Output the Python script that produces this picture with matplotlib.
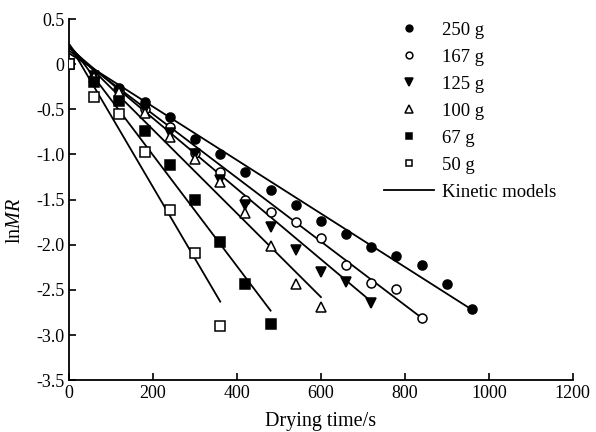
import matplotlib.pyplot as plt
import numpy as np

plt.rcParams['font.family'] = ['Liberation Serif', 'DejaVu Serif']
plt.rcParams['mathtext.fontset'] = 'custom'
plt.rcParams['mathtext.rm'] = 'Liberation Serif'
plt.rcParams['mathtext.it'] = 'Liberation Serif:italic'

labels = ['250 g', '167 g', '125 g', '100 g', '67 g', '50 g']
markers = ['o', 'o', 'v', '^', 's', 's']
filled = [True, False, True, False, True, False]

t250 = [0, 60, 120, 180, 240, 300, 360, 420, 480, 540, 600, 660, 720, 780, 840, 900, 960]
y250 = [0, -0.15, -0.26, -0.42, -0.58, -0.83, -1.0, -1.19, -1.39, -1.56, -1.74, -1.88, -2.03, -2.12, -2.22, -2.44, -2.71]
t167 = [0, 60, 120, 180, 240, 300, 360, 420, 480, 540, 600, 660, 720, 780, 840]
y167 = [0, -0.14, -0.3, -0.5, -0.7, -0.98, -1.19, -1.51, -1.64, -1.75, -1.92, -2.23, -2.42, -2.49, -2.81]
t125 = [0, 60, 120, 180, 240, 300, 360, 420, 480, 540, 600, 660, 720]
y125 = [0, -0.13, -0.32, -0.5, -0.76, -1.0, -1.28, -1.56, -1.8, -2.06, -2.3, -2.41, -2.64]
t100 = [0, 60, 120, 180, 240, 300, 360, 420, 480, 540, 600]
y100 = [0, -0.14, -0.31, -0.54, -0.81, -1.05, -1.31, -1.65, -2.01, -2.43, -2.69]
t67 = [0, 60, 120, 180, 240, 300, 360, 420, 480]
y67 = [0, -0.2, -0.41, -0.74, -1.12, -1.51, -1.97, -2.44, -2.88]
t50 = [0, 60, 120, 180, 240, 300, 360]
y50 = [0, -0.36, -0.55, -0.97, -1.62, -2.09, -2.9]

# kinetic model lines: intercept at t=0 and end point
fit_a = [0.12, 0.15, 0.18, 0.2, 0.22, 0.22]
fit_tend = [960, 840, 720, 600, 480, 360]
fit_yend = [-2.72, -2.81, -2.63, -2.58, -2.73, -2.63]

times = [t250, t167, t125, t100, t67, t50]
vals = [y250, y167, y125, y100, y67, y50]

fig = plt.figure(figsize=(5.96, 4.32), dpi=100)
ax = fig.add_axes([0.116, 0.12, 0.845, 0.836])

for a, te, ye in zip(fit_a, fit_tend, fit_yend):
    ax.plot([0, te], [a, ye], color='black', lw=1.3, zorder=2)

handles = []
for t, y, m, f, lab in zip(times, vals, markers, filled, labels):
    ms = 7 if m in ('v', '^') else 6.5
    h, = ax.plot(t, y, ls='none', marker=m, ms=ms, mec='black', mew=1.1,
                 mfc='black' if f else 'white', label=lab, zorder=3)
    handles.append(h)
line_h, = ax.plot([], [], color='black', lw=1.3, label='Kinetic models')
handles.append(line_h)

ax.set_xlim(0, 1200)
ax.set_ylim(-3.5, 0.5)
ax.set_xticks(np.arange(0, 1201, 200))
ax.set_yticks(np.arange(-3.5, 0.51, 0.5))
ax.set_yticklabels(['-3.5', '-3.0', '-2.5', '-2.0', '-1.5', '-1.0', '-0.5', '0', '0.5'])
ax.tick_params(direction='in', length=5, width=1.2, labelsize=13)
ax.spines['top'].set_visible(False)
ax.spines['right'].set_visible(False)
ax.spines['left'].set_linewidth(1.3)
ax.spines['bottom'].set_linewidth(1.3)
ax.set_xlabel('Drying time/s', fontsize=14.5, labelpad=7)
ax.set_ylabel(r'ln$\mathit{MR}$', fontsize=14.5)
ax.yaxis.set_label_coords(-0.088, 0.44)

ax.legend(handles=handles, loc='upper right', bbox_to_anchor=(1.0, 1.04), frameon=False,
          fontsize=13.5, handlelength=2.7, markerscale=0.75, labelspacing=0.53,
          handletextpad=0.4)

fig.savefig('out.png', dpi=100)
